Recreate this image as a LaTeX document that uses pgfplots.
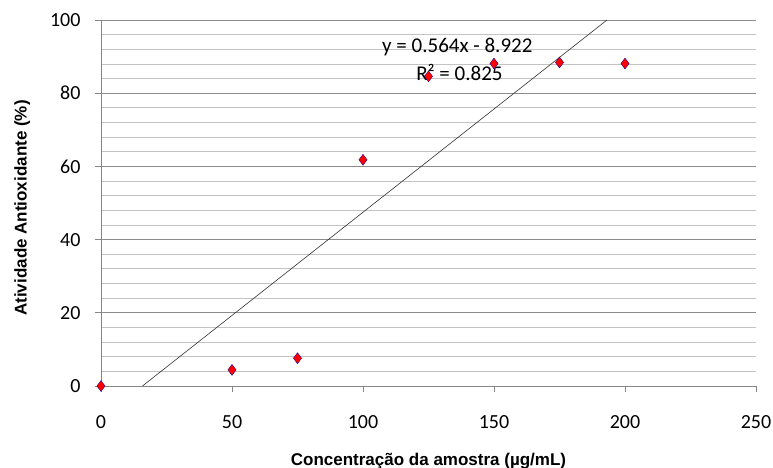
\documentclass[border=0pt]{standalone}
\usepackage{pgfplots}
\pgfplotsset{compat=1.18}
\usepackage{fontspec}
\setmainfont{Carlito}
\newfontfamily\arialb[BoldFont={Liberation Sans Bold}]{Liberation Sans}
\definecolor{majgrid}{RGB}{140,140,140}
\definecolor{mingrid}{RGB}{195,195,195}
\definecolor{axgray}{RGB}{134,134,134}
\begin{document}
\begin{tikzpicture}[x=1pt,y=1pt]
\useasboundingbox (-101,-82) rectangle (672,386);
\begin{axis}[
  at={(0,0)}, anchor=south west,
  scale only axis, width=655pt, height=366pt,
  xmin=0, xmax=250, ymin=0, ymax=100,
  xtick={0,50,...,250}, ytick={0,20,...,100},
  minor y tick num=4,
  axis x line*=bottom, axis y line*=left,
  axis line style={axgray, line width=0.8pt, -},
  ymajorgrids, yminorgrids,
  major grid style={majgrid, line width=0.8pt},
  minor grid style={mingrid, line width=0.8pt},
  tick style={axgray, line width=0.8pt},
  tick align=outside, major tick length=6pt,
  minor tick length=0pt,
  /pgf/number format/assume math mode=true,
  ticklabel style={font=\fontsize{20}{20}\selectfont, text=black},
  xticklabel style={yshift=-20pt},
  yticklabel style={xshift=-11pt},
  xlabel={\arialb\bfseries Concentração da amostra (µg/mL)},
  ylabel={\arialb\bfseries Atividade Antioxidante (\%)},
  label style={font=\fontsize{17}{17}\selectfont},
  xlabel style={yshift=-18pt},
  ylabel style={yshift=13pt, xshift=-5pt},
  clip=false,
]
\addplot[black!80, line width=0.6pt] coordinates {(15.82,0) (193.12,100)};
\addplot[only marks, mark=diamond*, mark size=5.5pt, mark options={fill=red, draw=blue!60!black, line width=0.3pt}]
  coordinates {(0,0) (50,4.4) (75,7.6) (100,61.8) (125,84.6) (150,88.1) (175,88.4) (200,88.1)};
\node[font=\fontsize{21}{21}\selectfont, text=black] at (axis cs:136,92.5) {y = 0.564x - 8.922};
\node[font=\fontsize{21}{21}\selectfont, text=black] at (axis cs:136.8,85.6) {R² = 0.825};
\end{axis}
\end{tikzpicture}
\end{document}
